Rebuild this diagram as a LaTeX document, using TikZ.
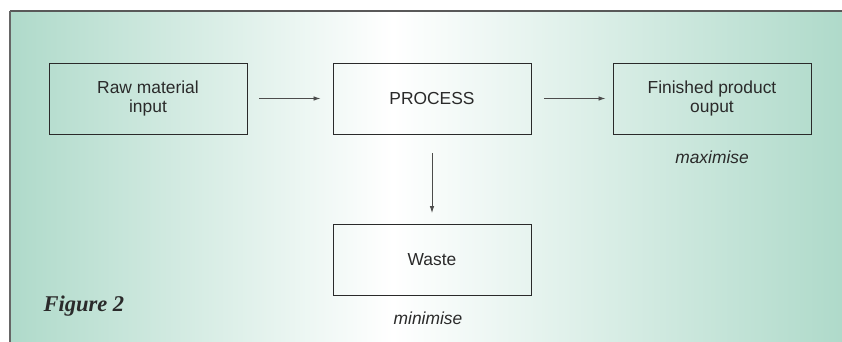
\documentclass[tikz,border=0pt]{standalone}
\usepackage{fontspec}
\setmainfont{Liberation Sans}
\newfontfamily\figfont{Liberation Serif}
\usetikzlibrary{arrows.meta}
\definecolor{mint}{HTML}{AFDACA}
\definecolor{inkgrey}{HTML}{2A2A2A}
\pgfdeclarehorizontalshading{bgfade}{100bp}{color(0bp)=(mint); color(25bp)=(mint); color(48bp)=(white); color(75bp)=(mint); color(100bp)=(mint)}

\begin{document}
\begin{tikzpicture}[x=1pt,y=-1pt]

\tikzset{stage/.style = {shape=rectangle,draw=inkgrey,line width=0.9pt,minimum width=198pt,minimum height=71pt,align=center,text=inkgrey,font=\fontsize{17.4}{18.6}\selectfont}}
\tikzset{flow/.style = {-{Latex[length=7pt,width=4.5pt]},draw=black!70,line width=0.8pt}}
\tikzset{note/.style = {text=inkgrey,font=\fontsize{17.4}{18}\selectfont\itshape}}
\useasboundingbox (0,0) rectangle (842,342);
%background
\shade[shading=bgfade] (10,11) rectangle (842,342);
\draw[black!65,line width=2pt] (10,11) -- (842,11);
\draw[black!60,line width=1.1pt] (10,11) -- (10,342);
%boxes
\node[stage] (raw) at (148,98.5) {Raw material\\input};
\node[stage] (process) at (432,98.5) {PROCESS};
\node[stage] (finished) at (712,98.5) {Finished product\\ouput};
\node[stage] (waste) at (432,260) {Waste};
%notes
\node[note] (maximise) at (712,157) {maximise};
\node[note] (minimise) at (428,318) {minimise};
\node[anchor=west,text=inkgrey,font=\figfont\fontsize{22.5}{24}\selectfont\bfseries\itshape] (figlabel) at (40,306) {Figure 2};
%arrows
\draw[flow,shorten <=12pt,shorten >=12pt] (raw) -- (process);
\draw[flow,shorten <=13pt,shorten >=7pt] (process) -- (finished);
\draw[flow,shorten <=19pt,shorten >=11pt] (process) -- (waste);

\end{tikzpicture}
\end{document}
